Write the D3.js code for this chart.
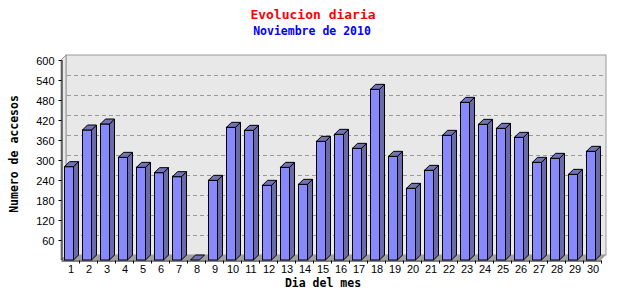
<!DOCTYPE html>
<html>
<head>
<meta charset="utf-8">
<script src="https://cdn.jsdelivr.net/npm/d3@7"></script>
<style>
  body { margin: 0; background: #fff; }
  svg { display: block; }
</style>
</head>
<body>
<div id="chart"></div>
<script>
// Chart data
const days = d3.range(1, 31).map(String);
const visits = [280, 390, 408, 308, 278, 262, 250, 0, 239, 398,
                389, 224, 278, 227, 356, 377, 335, 512, 311, 215,
                269, 374, 473, 407, 395, 368, 293, 305, 257, 326];
const yTicks = [60, 120, 180, 240, 300, 360, 420, 480, 540, 600];

const WIDTH = 640;
const HEIGHT = 300;
const PLOT = { left: 61, right: 601, top: 60, bottom: 260 };
const DEPTH = 5;   // 3d offset of the back wall and the bars

const svg = d3.select("#chart").append("svg")
  .attr("width", WIDTH)
  .attr("height", HEIGHT);

const x = d3.scaleBand().domain(days).range([PLOT.left, PLOT.right]);
const y = d3.scaleLinear().domain([0, 600]).range([PLOT.bottom, PLOT.top]);

// Titles
svg.append("text").attr("x", 313).attr("y", 19)
  .attr("text-anchor", "middle")
  .style("font", "bold 13px 'DejaVu Sans Mono'").style("fill", "#ff0000")
  .text("Evolucion diaria");
svg.append("text").attr("x", 312).attr("y", 35)
  .attr("text-anchor", "middle")
  .style("font", "bold 11.5px 'DejaVu Sans Mono'").style("fill", "#0000ff")
  .text("Noviembre de 2010");

// Walls and floor
const x0 = PLOT.left, x1 = PLOT.right, yTop = y(600), yBot = y(0);
svg.append("rect")
  .attr("x", x0 + DEPTH).attr("y", yTop - DEPTH)
  .attr("width", x1 - x0).attr("height", yBot - yTop)
  .style("fill", "#e8e8e8").style("stroke", "#999");
svg.append("polygon")
  .attr("points", [[x0, yTop], [x0 + DEPTH, yTop - DEPTH], [x0 + DEPTH, yBot - DEPTH], [x0, yBot]].join(" "))
  .style("fill", "#e8e8e8").style("stroke", "#999");
svg.append("polygon")
  .attr("points", [[x0, yBot], [x0 + DEPTH, yBot - DEPTH], [x1 + DEPTH, yBot - DEPTH], [x1, yBot]].join(" "))
  .style("fill", "#a0a0a0");

// Grid lines on the back wall
svg.append("g").selectAll("line")
  .data(yTicks.filter(v => v < 600))
  .enter().append("line")
  .attr("x1", x0 + DEPTH + 1).attr("x2", x1 + DEPTH)
  .attr("y1", d => y(d) - DEPTH + 0.5).attr("y2", d => y(d) - DEPTH + 0.5)
  .style("stroke", "#999").style("stroke-dasharray", "4,3");

// Bars
const barOff = 3.5, barW = 9;
const bars = svg.append("g").selectAll("g")
  .data(days.map((d, i) => ({ day: d, v: visits[i] })))
  .enter().append("g");

bars.filter(d => d.v > 0).append("rect")
  .attr("x", d => x(d.day) + barOff).attr("y", d => y(d.v))
  .attr("width", barW).attr("height", d => yBot - y(d.v))
  .style("fill", "#8888ff").style("stroke", "#000");
bars.filter(d => d.v > 0).append("polygon")
  .attr("points", d => {
    const l = x(d.day) + barOff + barW;
    return [[l, y(d.v)], [l + DEPTH, y(d.v) - DEPTH], [l + DEPTH, yBot - DEPTH], [l, yBot]].join(" ");
  })
  .style("fill", "#6a6aa8").style("stroke", "#000");
bars.append("polygon")
  .attr("points", d => {
    const l = x(d.day) + barOff;
    return [[l, y(d.v)], [l + DEPTH, y(d.v) - DEPTH], [l + barW + DEPTH, y(d.v) - DEPTH], [l + barW, y(d.v)]].join(" ");
  })
  .style("fill", "#7272b4").style("stroke", "#000");

// Axes
const yAxis = d3.axisLeft(y).tickValues(yTicks).tickSize(3).tickSizeOuter(0);
const yg = svg.append("g").attr("transform", `translate(${x0 + 0.5},0)`).call(yAxis);
yg.select(".domain").attr("d", `M0.5,${yTop}V${yBot}`).style("stroke", "#000");
yg.selectAll("text")
  .style("font", "11px 'Liberation Sans'").style("fill", "#000")
  .attr("x", -7).attr("dy", "0.4em");

const xAxis = d3.axisBottom(x).tickSize(0).tickSizeOuter(0);
const xg = svg.append("g").attr("transform", `translate(0,${yBot + 0.5})`).call(xAxis);
xg.select(".domain").style("stroke", "#000");
xg.selectAll("text")
  .style("font", "11px 'Liberation Sans'").style("fill", "#000")
  .attr("y", 5).attr("dx", 1);
// small marks between categories
xg.append("g").selectAll("line")
  .data(days)
  .enter().append("line")
  .attr("x1", d => x(d) + x.step() + 0.5).attr("x2", d => x(d) + x.step() + 0.5)
  .attr("y1", 0).attr("y2", 3)
  .style("stroke", "#000");

// Axis titles
svg.append("text").attr("x", 323).attr("y", 287)
  .attr("text-anchor", "middle")
  .style("font", "bold 11.5px 'DejaVu Sans Mono'").style("fill", "#000")
  .text("Dia del mes");
svg.append("text")
  .attr("transform", "translate(18,154) rotate(-90)")
  .attr("text-anchor", "middle")
  .style("font", "bold 11.5px 'DejaVu Sans Mono'").style("fill", "#000")
  .text("Numero de accesos");
</script>
</body>
</html>
